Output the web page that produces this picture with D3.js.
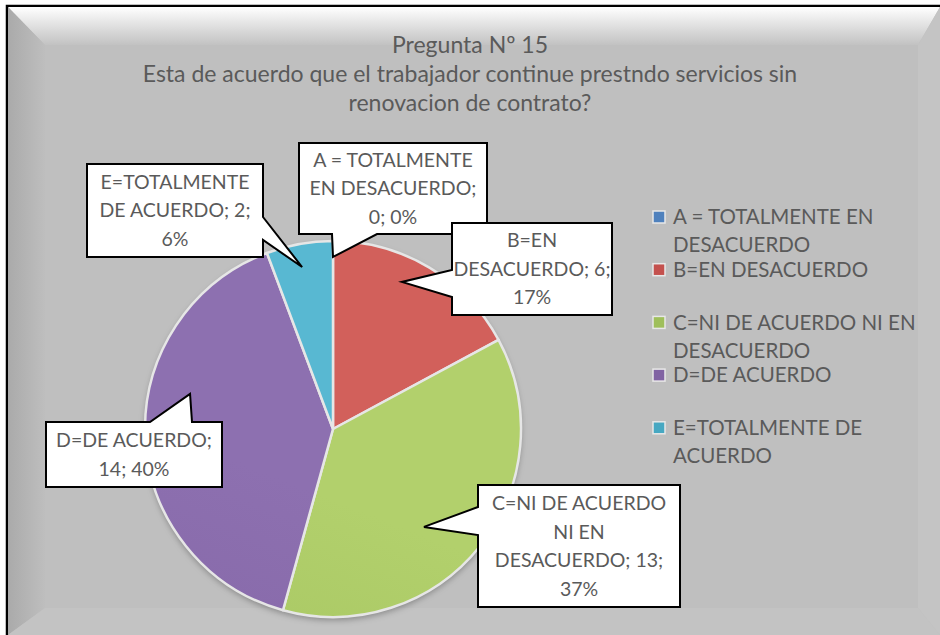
<!DOCTYPE html>
<html>
<head>
<meta charset="utf-8">
<script src="https://cdn.jsdelivr.net/npm/d3@7/dist/d3.min.js"></script>
<style>
  body { margin: 0; background: #fff; }
  text { font-family: Lato, "Open Sans", sans-serif; fill: #5a5a5a; }
</style>
</head>
<body>
<div id="chart"></div>
<script>
// data
var categories = ["A = TOTALMENTE EN DESACUERDO", "B=EN DESACUERDO",
  "C=NI DE ACUERDO NI EN DESACUERDO", "D=DE ACUERDO", "E=TOTALMENTE DE ACUERDO"];
var counts = [0, 6, 13, 14, 2];
var colors = ["#4f81bd", "#c4514e", "#9fbf5b", "#8163a3", "#47a8c2"];
var lightColors = ["#6590c8", "#d2605b", "#b2d06c", "#8d70b0", "#58b8d2"];

var titleLines = ["Pregunta Nº 15",
  "Esta de acuerdo que el trabajador continue prestndo servicios sin",
  "renovacion de contrato?"];

var legendLines = [
  ["A = TOTALMENTE EN", "DESACUERDO"],
  ["B=EN DESACUERDO"],
  ["C=NI DE ACUERDO NI EN", "DESACUERDO"],
  ["D=DE ACUERDO"],
  ["E=TOTALMENTE DE", "ACUERDO"]
];

var labelLines = [
  ["A = TOTALMENTE", "EN DESACUERDO;", "0; 0%"],
  ["B=EN", "DESACUERDO; 6;", "17%"],
  ["C=NI DE ACUERDO", "NI EN", "DESACUERDO; 13;", "37%"],
  ["D=DE ACUERDO;", "14; 40%"],
  ["E=TOTALMENTE", "DE ACUERDO; 2;", "6%"]
];

// callout layout: box, side the pointer leaves from, pointer base, pointer tip (angle deg, radius fraction)
var callouts = [
  {box: [299, 143, 188, 91], side: "bottom", base: [332, 377], tip: [0, 0.915]},
  {box: [452, 223, 160, 92], side: "left", base: [270, 297], tip: [25.1, 0.864]},
  {box: [478, 485, 202, 122], side: "left", base: [507, 535], tip: [137.1, 0.711]},
  {box: [46, 422, 176, 65], side: "top", base: [150, 192], tip: [283.8, 0.783]},
  {box: [87, 164, 176, 93], side: "right", base: [217, 240], tip: [349.2, 0.877]}
];

var svgWidth = 940;
var svgHeight = 635;
var cx = 333, cy = 429, radius = 188;

var svg = d3.select("#chart")
  .append("svg")
  .attr("width", svgWidth)
  .attr("height", svgHeight);

var defs = svg.append("defs");

// frame gradients
var gTop = defs.append("linearGradient").attr("id", "bevTop")
  .attr("x1", 0).attr("y1", 0).attr("x2", 0).attr("y2", 1);
gTop.append("stop").attr("offset", "0%").attr("stop-color", "#ffffff");
gTop.append("stop").attr("offset", "40%").attr("stop-color", "#e6e6e6");
gTop.append("stop").attr("offset", "100%").attr("stop-color", "#c2c2c2");

var gLeft = defs.append("linearGradient").attr("id", "bevLeft")
  .attr("x1", 0).attr("y1", 0).attr("x2", 1).attr("y2", 0);
gLeft.append("stop").attr("offset", "0%").attr("stop-color", "#aaaaaa");
gLeft.append("stop").attr("offset", "100%").attr("stop-color", "#bebebe");

// slice gradients
colors.forEach(function(c, i) {
  var g = defs.append("linearGradient").attr("id", "slice" + i)
    .attr("gradientUnits", "userSpaceOnUse")
    .attr("x1", cx + radius * 0.5).attr("y1", cy - radius)
    .attr("x2", cx - radius * 0.3).attr("y2", cy + radius);
  g.append("stop").attr("offset", "0%").attr("stop-color", lightColors[i]);
  g.append("stop").attr("offset", "100%").attr("stop-color", c);
});

var shadow = defs.append("filter").attr("id", "pieShadow")
  .attr("x", "-20%").attr("y", "-20%").attr("width", "140%").attr("height", "140%");
shadow.append("feDropShadow").attr("dx", 0).attr("dy", 3).attr("stdDeviation", 3)
  .attr("flood-color", "#000").attr("flood-opacity", 0.3);

// background with bevel
svg.append("rect")
  .attr("x", 7).attr("y", 6)
  .attr("width", svgWidth).attr("height", svgHeight)
  .attr("fill", "#bfbfbf")
  .attr("stroke", "#000")
  .attr("stroke-width", 2.5);

var inL = 45, inT = 45, inR = 918, inB = 608;
svg.append("polygon")
  .attr("points", [[8, 7], [svgWidth, 7], [inR, inT], [inL, inT]].join(" "))
  .attr("fill", "url(#bevTop)");
svg.append("polygon")
  .attr("points", [[8, 7], [inL, inT], [inL, inB], [8, svgHeight]].join(" "))
  .attr("fill", "url(#bevLeft)");
svg.append("polygon")
  .attr("points", [[svgWidth, 7], [svgWidth, svgHeight], [inR, inB], [inR, inT]].join(" "))
  .attr("fill", "#c4c4c4");
svg.append("polygon")
  .attr("points", [[8, svgHeight], [inL, inB], [inR, inB], [svgWidth, svgHeight]].join(" "))
  .attr("fill", "#c3c3c3");

// title
svg.append("g").selectAll("text")
  .data(titleLines)
  .enter()
  .append("text")
  .attr("x", 470)
  .attr("y", (d, i) => 45 + i * 29)
  .attr("dy", "0.35em")
  .attr("text-anchor", "middle")
  .style("font-size", "23px")
  .text(d => d);

// pie
var pie = d3.pie().sort(null).value(d => d);
var arc = d3.arc().innerRadius(0).outerRadius(radius);
var arcs = pie(counts);

var pieG = svg.append("g")
  .attr("transform", `translate(${cx}, ${cy})`);

pieG.append("circle")
  .attr("r", radius)
  .attr("fill", "#bfbfbf")
  .attr("filter", "url(#pieShadow)");

pieG.selectAll("path")
  .data(arcs)
  .enter()
  .append("path")
  .attr("d", arc)
  .attr("fill", (d, i) => `url(#slice${i})`)
  .attr("stroke", "#e6e6e6")
  .attr("stroke-width", 2.5)
  .attr("stroke-linejoin", "round");

// callouts
function calloutPath(c) {
  var x = c.box[0], y = c.box[1], w = c.box[2], h = c.box[3];
  var a = c.tip[0] * Math.PI / 180, rr = c.tip[1] * radius;
  var tx = cx + rr * Math.sin(a), ty = cy - rr * Math.cos(a);
  var p = d3.path();
  p.moveTo(x, y);
  if (c.side === "top") {
    p.lineTo(c.base[0], y); p.lineTo(tx, ty); p.lineTo(c.base[1], y);
  }
  p.lineTo(x + w, y);
  if (c.side === "right") {
    p.lineTo(x + w, c.base[0]); p.lineTo(tx, ty); p.lineTo(x + w, c.base[1]);
  }
  p.lineTo(x + w, y + h);
  if (c.side === "bottom") {
    p.lineTo(c.base[1], y + h); p.lineTo(tx, ty); p.lineTo(c.base[0], y + h);
  }
  p.lineTo(x, y + h);
  if (c.side === "left") {
    p.lineTo(x, c.base[1]); p.lineTo(tx, ty); p.lineTo(x, c.base[0]);
  }
  p.closePath();
  return p.toString();
}

var labelG = svg.append("g");
callouts.forEach(function(c, i) {
  labelG.append("path")
    .attr("d", calloutPath(c))
    .attr("fill", "#fff")
    .attr("stroke", "#000")
    .attr("stroke-width", 2)
    .attr("stroke-linejoin", "miter");

  var lines = labelLines[i];
  var midY = c.box[1] + c.box[3] / 2;
  labelG.append("g").selectAll("text")
    .data(lines)
    .enter()
    .append("text")
    .attr("x", c.box[0] + c.box[2] / 2)
    .attr("y", (d, j) => midY + (j - (lines.length - 1) / 2) * 28.5)
    .attr("dy", "0.35em")
    .attr("text-anchor", "middle")
    .style("font-size", "19.5px")
    .text(d => d);
});

// legend
var legendG = svg.append("g")
  .attr("transform", "translate(653, 217)");

var items = legendG.selectAll("g")
  .data(categories)
  .enter()
  .append("g")
  .attr("transform", (d, i) => `translate(0, ${i * 52.7})`);

items.append("rect")
  .attr("x", 0).attr("y", -6)
  .attr("width", 12).attr("height", 12)
  .attr("fill", (d, i) => colors[i])
  .attr("stroke", "#e8e8e8")
  .attr("stroke-width", 1.5);

items.each(function(d, i) {
  d3.select(this).selectAll("text")
    .data(legendLines[i])
    .enter()
    .append("text")
    .attr("x", 20)
    .attr("y", (t, j) => j * 28)
    .attr("dy", "0.35em")
    .style("font-size", "20.5px")
    .text(t => t);
});
</script>
</body>
</html>
